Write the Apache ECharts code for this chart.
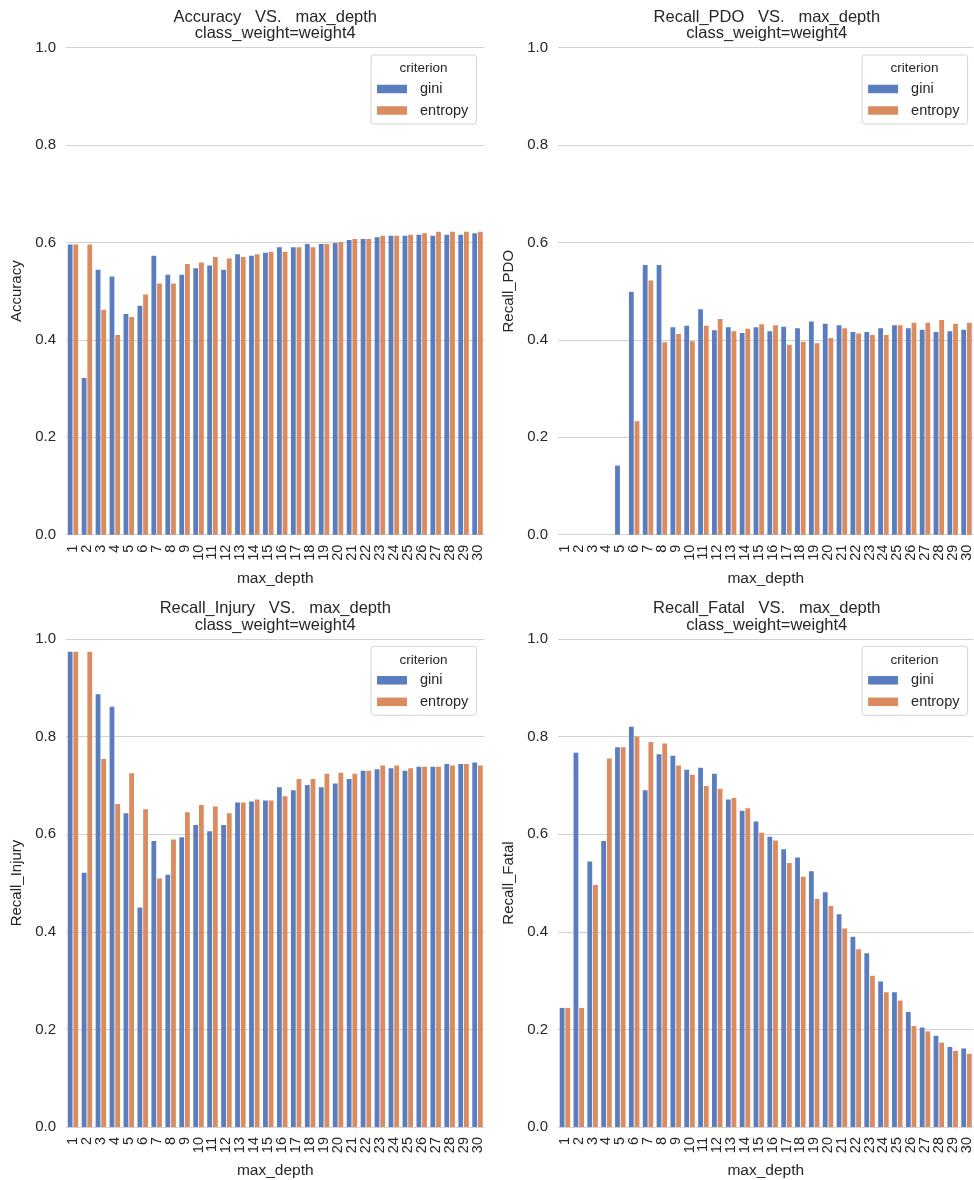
<!DOCTYPE html>
<html>
<head>
<meta charset="utf-8">
<title>Decision tree metrics vs max_depth</title>
<script src="https://cdn.jsdelivr.net/npm/echarts@6/dist/echarts.min.js"></script>
<style>
  html, body { margin: 0; padding: 0; background: #ffffff; }
  #chart { width: 974px; height: 1180px; }
</style>
</head>
<body>
<div id="chart"></div>
<script>
// max_depth values on the x axis
const depths = ['1','2','3','4','5','6','7','8','9','10','11','12','13','14','15',
                '16','17','18','19','20','21','22','23','24','25','26','27','28','29','30'];
const yTicks = [0.0, 0.2, 0.4, 0.6, 0.8, 1.0];
const criteria = ['gini', 'entropy'];

// Accuracy by criterion
const accuracyGini    = [0.596,0.322,0.544,0.530,0.453,0.470,0.573,0.534,0.534,0.547,0.553,0.544,0.576,0.573,0.579,0.590,0.590,0.597,0.597,0.599,0.605,0.607,0.611,0.614,0.614,0.616,0.614,0.616,0.616,0.619];
const accuracyEntropy = [0.596,0.596,0.462,0.410,0.447,0.493,0.516,0.516,0.556,0.559,0.570,0.567,0.570,0.576,0.581,0.581,0.590,0.590,0.597,0.601,0.607,0.607,0.614,0.614,0.616,0.619,0.622,0.622,0.622,0.622];

// Recall on PDO class
const pdoGini    = [0,0,0,0,0.142,0.499,0.554,0.554,0.426,0.429,0.463,0.420,0.426,0.414,0.426,0.418,0.427,0.424,0.438,0.433,0.430,0.416,0.416,0.424,0.430,0.424,0.421,0.416,0.418,0.421];
const pdoEntropy = [0,0,0,0,0,0.233,0.522,0.395,0.412,0.397,0.429,0.443,0.418,0.423,0.432,0.430,0.390,0.396,0.393,0.404,0.424,0.413,0.410,0.410,0.430,0.435,0.435,0.441,0.433,0.435];

// Recall on Injury class
const injuryGini    = [0.974,0.521,0.887,0.861,0.643,0.450,0.586,0.517,0.594,0.619,0.606,0.619,0.665,0.667,0.669,0.696,0.690,0.701,0.696,0.704,0.713,0.730,0.733,0.735,0.730,0.738,0.738,0.744,0.744,0.747];
const injuryEntropy = [0.974,0.974,0.754,0.662,0.725,0.651,0.509,0.589,0.645,0.660,0.657,0.643,0.665,0.671,0.669,0.678,0.713,0.713,0.724,0.726,0.724,0.730,0.741,0.741,0.735,0.738,0.738,0.741,0.744,0.741];

// Recall on Fatal class
const fatalGini    = [0.244,0.767,0.544,0.586,0.778,0.820,0.690,0.764,0.761,0.732,0.736,0.724,0.671,0.648,0.626,0.595,0.569,0.552,0.524,0.481,0.436,0.390,0.356,0.298,0.276,0.236,0.204,0.187,0.164,0.161];
const fatalEntropy = [0.244,0.244,0.496,0.755,0.778,0.800,0.789,0.786,0.741,0.722,0.699,0.693,0.674,0.653,0.603,0.587,0.541,0.513,0.467,0.453,0.407,0.364,0.310,0.276,0.259,0.207,0.196,0.173,0.156,0.150];

const panels = [
  { metric: 'Accuracy',      gini: accuracyGini, entropy: accuracyEntropy },
  { metric: 'Recall_PDO',    gini: pdoGini,      entropy: pdoEntropy },
  { metric: 'Recall_Injury', gini: injuryGini,   entropy: injuryEntropy },
  { metric: 'Recall_Fatal',  gini: fatalGini,    entropy: fatalEntropy }
];
const subtitle = 'class_weight=weight4';

const FONT = "'Liberation Sans', Arial, Helvetica, sans-serif";
const TEXT = '#262626';
const GRID_LINE = '#d2d2d2';
const COLORS = { gini: '#5a7dc0', entropy: '#da8b5f' };

// plot-area rectangles for the 2x2 layout
const boxes = [
  { left: 66,  top: 47.7, width: 418.5, height: 487 },
  { left: 558, top: 47.7, width: 417.6, height: 487 },
  { left: 66,  top: 639,  width: 418.5, height: 488.5 },
  { left: 558, top: 639,  width: 417.6, height: 488.5 }
];

const option = {
  animation: false,
  backgroundColor: '#ffffff',
  textStyle: { fontFamily: FONT, color: TEXT },
  title: [], grid: [], xAxis: [], yAxis: [], series: [], legend: [], graphic: []
};

panels.forEach((p, i) => {
  const b = boxes[i];
  const cx = b.left + b.width / 2;
  const right = b.left + b.width;

  option.title.push({
    text: p.metric + '   VS.   max_depth\n' + subtitle,
    left: cx, top: b.top - 38.5, textAlign: 'center', padding: 0,
    textStyle: { fontFamily: FONT, fontSize: 16.5, fontWeight: 'normal', color: TEXT, lineHeight: 16.5 }
  });

  option.grid.push({ left: b.left, top: b.top, width: b.width, height: b.height, containLabel: false });

  option.xAxis.push({
    type: 'category', gridIndex: i, data: depths,
    name: 'max_depth', nameLocation: 'middle', nameGap: 36,
    nameTextStyle: { fontFamily: FONT, fontSize: 15.5, color: TEXT },
    axisLine: { show: false }, axisTick: { show: false },
    axisLabel: { rotate: 90, interval: 0, margin: 10, fontFamily: FONT, fontSize: 14.5, color: TEXT },
    splitLine: { show: false }
  });

  option.yAxis.push({
    type: 'value', gridIndex: i, min: yTicks[0], max: yTicks[yTicks.length - 1], interval: 0.2,
    name: p.metric, nameLocation: 'middle', nameGap: 42,
    nameTextStyle: { fontFamily: FONT, fontSize: 15, color: TEXT },
    axisLine: { show: false }, axisTick: { show: false },
    axisLabel: { margin: 10, fontFamily: FONT, fontSize: 15, color: TEXT, formatter: v => v.toFixed(1) },
    splitLine: { show: true, lineStyle: { color: GRID_LINE, width: 1 } }
  });

  criteria.forEach(c => {
    option.series.push({
      type: 'bar', name: c, xAxisIndex: i, yAxisIndex: i,
      data: p[c], barWidth: 4.8, barGap: '18%',
      itemStyle: { color: COLORS[c] }
    });
  });

  // legend frame and title
  const lx = right - 113.5, ly = b.top + 7.3;
  option.graphic.push({
    type: 'rect', silent: true, z: 10,
    shape: { x: lx, y: ly, width: 105.5, height: 69, r: 3 },
    style: { fill: 'rgba(255,255,255,0.85)', stroke: '#d4d4d4', lineWidth: 1 }
  });
  option.graphic.push({
    type: 'text', silent: true, z: 11,
    style: { text: 'criterion', x: lx + 52.5, y: ly + 13.5, align: 'center', verticalAlign: 'middle',
             font: '13.5px ' + FONT, fill: TEXT }
  });
  option.legend.push({
    data: criteria, orient: 'vertical', left: lx + 6, top: ly + 26.5, padding: 0,
    itemWidth: 30, itemHeight: 8.5, itemGap: 6.5, icon: 'rect', z: 12,
    textStyle: { fontFamily: FONT, fontSize: 14.5, color: TEXT, padding: [0, 0, 0, 8] }
  });
});

const chart = echarts.init(document.getElementById('chart'), null, { renderer: 'canvas' });
chart.setOption(option);
</script>
</body>
</html>
